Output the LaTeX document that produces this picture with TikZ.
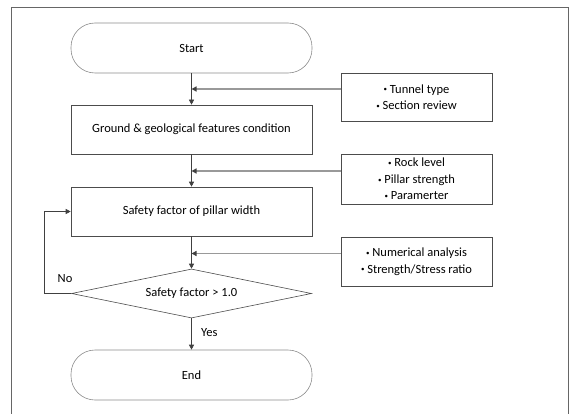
\documentclass[tikz,border=0pt]{standalone}
\usepackage{fontspec}
\setmainfont{Carlito}
\usetikzlibrary{shapes.geometric,arrows.meta}
\newcommand{\itm}{{\fontsize{7}{7}\selectfont\raisebox{0.35ex}{•}}~}
\begin{document}
\begin{tikzpicture}[x=1pt,y=-1pt]
  \tikzset{
    txt/.style={font=\fontsize{12.5}{14}\selectfont},
    step box/.style={txt,draw=black!70,line width=0.6pt,minimum width=241pt,minimum height=49pt,inner sep=0pt},
    term box/.style={step box,draw=black!45,rounded corners=24pt,minimum height=50pt},
    note box/.style={draw=black!70,line width=0.6pt,minimum width=151pt,inner sep=0pt,align=center,font=\fontsize{12.5}{16.5}\selectfont},
    flow/.style={draw=black!75,line width=0.6pt,-{Triangle[length=5pt,width=5pt]}},
    side/.style={draw=black!40,line width=1.3pt,-{Triangle[length=5pt,width=5pt,fill=black!75,color=black!75]}},
  }

    \useasboundingbox (0,0) rectangle (569,414);
    %FRAME
    \draw[black!60,line width=0.8pt] (11.5,7) rectangle (568.5,440);

    %MAIN FLOW
    \node[term box] (start) at (191.5,48) {Start};
    \node[step box] (ground) at (191.5,129.5) {Ground \& geological features condition};
    \node[step box] (safety) at (191.5,211.5) {Safety factor of pillar width};
    \node[txt,diamond,aspect=4.9,draw=black!70,line width=0.6pt,minimum width=240pt,minimum height=49pt,inner sep=0pt] (check) at (191.5,293.5) {Safety factor > 1.0};
    \node[term box] (end) at (191.5,375) {End};

    %INPUTS
    \node[note box,minimum height=48pt] (tunnel) at (416.5,97) {\itm Tunnel type\\\itm Section review};
    \node[note box,minimum height=50pt] (rock) at (416.5,179) {\itm Rock level\\\itm Pillar strength\\\itm Paramerter};
    \node[note box,minimum height=49pt] (numer) at (416.5,261.5) {\itm Numerical analysis\\\itm Strength/Stress ratio};

    \draw[flow] (start) -- (ground);
    \draw[flow] (ground) -- (safety);
    \draw[flow] (safety) -- (check);
    \draw[flow] (check) -- node[txt,right,xshift=6pt,pos=0.45] (yes) {Yes} (end);
    \draw[flow] (check.west) -- ++(-27,0) coordinate (loop) |- (safety.west);
    \node[txt,anchor=west] (no) at ([xshift=10pt,yshift=15pt]loop) {No};

    \foreach \b/\a in {tunnel/start,rock/ground,numer/safety} {
      \draw[side] ([yshift=8pt]\b.west) -- ([yshift=8pt]\b.west -| \a.south) ;
    }
  \end{tikzpicture}
\end{document}
